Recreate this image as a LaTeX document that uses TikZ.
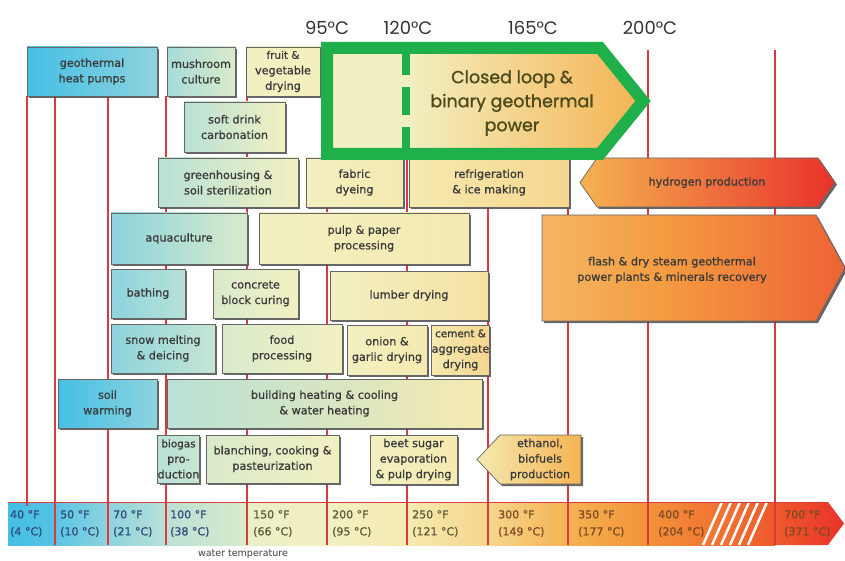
\documentclass[tikz,border=0pt]{standalone}
\usepackage{fontspec}
\setmainfont{DejaVu Sans}
\newfontfamily\bxfam{DejaVu Sans}[FakeBold=0.8]
\newfontfamily\gothic{Poppins}
\newfontfamily\gothicb{Poppins}[FakeBold=1.2]
\usetikzlibrary{shadows}
\definecolor{gridred}{HTML}{D93A40}
\definecolor{gbr}{HTML}{1FAF4B}
\definecolor{txt}{HTML}{3A3A3A}
\definecolor{olivetxt}{HTML}{4D4A1C}
\definecolor{cA}{HTML}{45BFE5}
\definecolor{cB}{HTML}{8DD3DE}
\definecolor{cC}{HTML}{B8E1D6}
\definecolor{cD}{HTML}{D9EBCB}
\definecolor{cE}{HTML}{F2F0C2}
\definecolor{cF}{HTML}{F5EAB0}
\definecolor{cG}{HTML}{F6D68E}
\definecolor{cH}{HTML}{F5B352}
\definecolor{cI}{HTML}{F3923A}
\definecolor{cJ}{HTML}{EE5A2C}
\definecolor{cK}{HTML}{E8322A}
\definecolor{labA}{HTML}{2F4A78}
\definecolor{labB}{HTML}{5C5A3A}
\definecolor{labC}{HTML}{7A4A22}
\pgfdeclarehorizontalshading{flashshade}{100bp}{color(0bp)=(cG); color(45bp)=(cI!70!cH); color(100bp)=(cK)}
\newcommand\bxfont{\bxfam\fontsize{11.2}{15.5}\selectfont}
\newcommand\smfont{\bxfam\fontsize{10.4}{15.5}\selectfont}
\newcommand\barfont{\bxfam\fontsize{11}{17}\selectfont}
\newcommand\appnode[8]{\node[appbox,left color=#6,right color=#7,minimum width={(#4)*1pt-(#2)*1pt},minimum height={(#5)*1pt-(#3)*1pt}] (#1) at ({(#2+#4)/2},{(#3+#5)/2}) {#8};}
\begin{document}
\begin{tikzpicture}[x=1pt,y=-1pt,
  appbox/.style={draw=black!60, line width=0.7pt, inner sep=0pt, align=center, text=txt, font=\bxfont,
    drop shadow={shadow xshift=2pt, shadow yshift=-2pt, fill=black!70, opacity=0.85}},
  arrowbox/.style={draw=black!60, line width=0.7pt,
    drop shadow={shadow xshift=2pt, shadow yshift=-2pt, fill=black!70, opacity=0.85}},
  boxtext/.style={inner sep=0pt, align=center, text=txt, font=\bxfont},
  gridline/.style={draw=gridred, line width=2pt},
  barlab/.style={anchor=west, inner sep=0pt, align=left, font=\barfont},
  toplab/.style={inner sep=0pt, text=black!80, font=\gothic\fontsize{18}{20}\selectfont}]
\useasboundingbox (0,0) rectangle (845,561);
\fill[white] (0,0) rectangle (845,561);
% bottom temperature bar
\path[left color=cA, right color=cA!80!cB] (8,502) rectangle (55,545);
\path[left color=cA!70!cB, right color=cB] (55,502) rectangle (108,545);
\path[left color=cB, right color=cC] (108,502) rectangle (165,545);
\path[left color=cC, right color=cD] (165,502) rectangle (247,545);
\path[left color=cD!30!cE, right color=cE] (247,502) rectangle (327,545);
\path[left color=cE, right color=cF] (327,502) rectangle (407,545);
\path[left color=cF, right color=cG] (407,502) rectangle (488,545);
\path[left color=cG, right color=cH] (488,502) rectangle (568,545);
\path[left color=cH, right color=cI] (568,502) rectangle (648,545);
\path[left color=cI, right color=cJ] (648,502) rectangle (775,545);
\path[left color=cJ, right color=cK] (775,502) -- (828,502) -- (844,523.5) -- (828,545) -- (775,545) -- cycle;
\begin{scope}
\clip (700,502) rectangle (770,545);
\foreach \i in {0,...,5} \draw[white, line width=2.5pt] ({703+9*\i},545) -- ({722+9*\i},502);
\end{scope}
\draw[gridred, line width=1pt] (8,502) -- (828,502);
% grid lines
\draw[gridline] (27,96) -- (27,506);
\draw[gridline] (55,96) -- (55,545);
\draw[gridline] (108,96) -- (108,545);
\draw[gridline] (166,96) -- (166,545);
\draw[gridline] (247,96) -- (247,545);
\draw[gridline] (327,150) -- (327,545);
\draw[gridline] (407,150) -- (407,545);
\draw[gridline] (488,160) -- (488,545);
\draw[gridline] (568,160) -- (568,545);
\draw[gridline] (648,50) -- (648,545);
\draw[gridline] (775,50) -- (775,545);
% bar labels
\node[barlab, text=labA] (l40) at (10,523.5) {40 °F\\(4 °C)};
\node[barlab, text=labA] (l50) at (60,523.5) {50 °F\\(10 °C)};
\node[barlab, text=labA] (l70) at (113,523.5) {70 °F\\(21 °C)};
\node[barlab, text=labA] (l100) at (170,523.5) {100 °F\\(38 °C)};
\node[barlab, text=labB] (l150) at (253,523.5) {150 °F\\(66 °C)};
\node[barlab, text=labB] (l200) at (332,523.5) {200 °F\\(95 °C)};
\node[barlab, text=labB] (l250) at (412,523.5) {250 °F\\(121 °C)};
\node[barlab, text=labC] (l300) at (498,523.5) {300 °F\\(149 °C)};
\node[barlab, text=labC] (l350) at (578,523.5) {350 °F\\(177 °C)};
\node[barlab, text=labC] (l400) at (658,523.5) {400 °F\\(204 °C)};
\node[barlab, text=labC] (l700) at (784,523.5) {700 °F\\(371 °C)};
\node[anchor=north, inner sep=0pt, text=black!75, font=\fontsize{9.5}{11}\selectfont] (wt) at (243,549.5) {water temperature};
% application boxes
\appnode{geo}{27}{47}{157}{96}{cA}{cB}{geothermal\\heat pumps}
\appnode{mush}{167}{47}{235}{96}{cC!60!cB}{cD}{mushroom\\culture}
\appnode{fruit}{246}{47}{320}{96}{cE}{cE!70!cF}{\smfont fruit \&\\vegetable\\drying}
\appnode{soft}{184}{102}{285}{152}{cC}{cE}{soft drink\\carbonation}
\appnode{greenh}{158}{158}{298}{207}{cC}{cE}{greenhousing \&\\soil sterilization}
\appnode{fabric}{306}{158}{403}{207}{cE}{cF}{fabric\\dyeing}
\appnode{refrig}{409}{158}{569}{207}{cF}{cG}{refrigeration\\\& ice making}
\appnode{aqua}{111}{213}{247}{264}{cB}{cD}{aquaculture}
\appnode{pulp}{259}{213}{469}{264}{cE}{cF}{pulp \& paper\\processing}
\appnode{bath}{111}{269}{185}{318}{cB}{cC}{bathing}
\appnode{concrete}{213}{269}{298}{318}{cD}{cE}{concrete\\block curing}
\appnode{lumber}{330}{271}{488}{320}{cE}{cF!60!cG}{lumber drying}
\appnode{snow}{111}{324}{215}{373}{cB}{cC!60!cD}{snow melting\\\& deicing}
\appnode{food}{222}{324}{342}{373}{cD}{cE}{food\\processing}
\appnode{onion}{347}{325}{427}{375}{cE}{cF}{onion \&\\garlic drying}
\appnode{cement}{432}{325}{489}{375}{cF}{cG}{\smfont cement \&\\aggregate\\drying}
\appnode{soil}{58}{379}{157}{428}{cA}{cB}{soil\\warming}
\appnode{building}{167}{379}{482}{428}{cC}{cF}{building heating \& cooling\\\& water heating}
\appnode{biogas}{158}{435}{199}{483}{cC}{cC!50!cD}{\smfont biogas\\pro-\\duction}
\appnode{blanch}{206}{435}{339}{483}{cD}{cE}{blanching, cooking \&\\pasteurization}
\appnode{beet}{370}{435}{457}{484}{cE}{cF}{beet sugar\\evaporation\\\& pulp drying}
% arrow shaped boxes
\path[arrowbox, left color=cF, right color=cH] (477,459.5) -- (500,435) -- (581,435) -- (581,484) -- (500,484) -- cycle;
\node[boxtext] (ethanol) at (540,459.5) {ethanol,\\biofuels\\production};
\path[arrowbox, left color=cH, right color=cK] (580,182.5) -- (597,158) -- (818,158) -- (835,182.5) -- (818,207) -- (597,207) -- cycle;
\node[boxtext] (hydrogen) at (707,182.5) {hydrogen production};
\path[arrowbox, shading=flashshade] (542,215) -- (816,215) -- (845,268) -- (816,321) -- (542,321) -- cycle;
\node[boxtext] (flash) at (672,270) {flash \& dry steam geothermal\\power plants \& minerals recovery};
% closed loop green arrow
\path[left color=cE, right color=cH] (406,48) -- (600,48) -- (643,101) -- (600,154) -- (406,154) -- cycle;
\fill[cE] (327,48) rectangle (406,154);
\draw[gbr, line width=12pt, line join=miter] (327,48) -- (600,48) -- (643,101) -- (600,154) -- (327,154) -- cycle;
\draw[gbr, line width=8pt, dash pattern=on 21pt off 12pt on 28pt off 12pt on 40pt off 2pt] (406,54) -- (406,156);
\node[inner sep=0pt, align=center, text=olivetxt, font=\gothicb\fontsize{17.5}{24}\selectfont] (closed) at (512,103) {Closed loop \&\\binary geothermal\\power};
% top temperature labels
\node[toplab] (t95) at (327,28) {95°C};
\node[toplab] (t120) at (408,28) {120°C};
\node[toplab] (t165) at (533,28) {165°C};
\node[toplab] (t200) at (650,28) {200°C};
\end{tikzpicture}
\end{document}
